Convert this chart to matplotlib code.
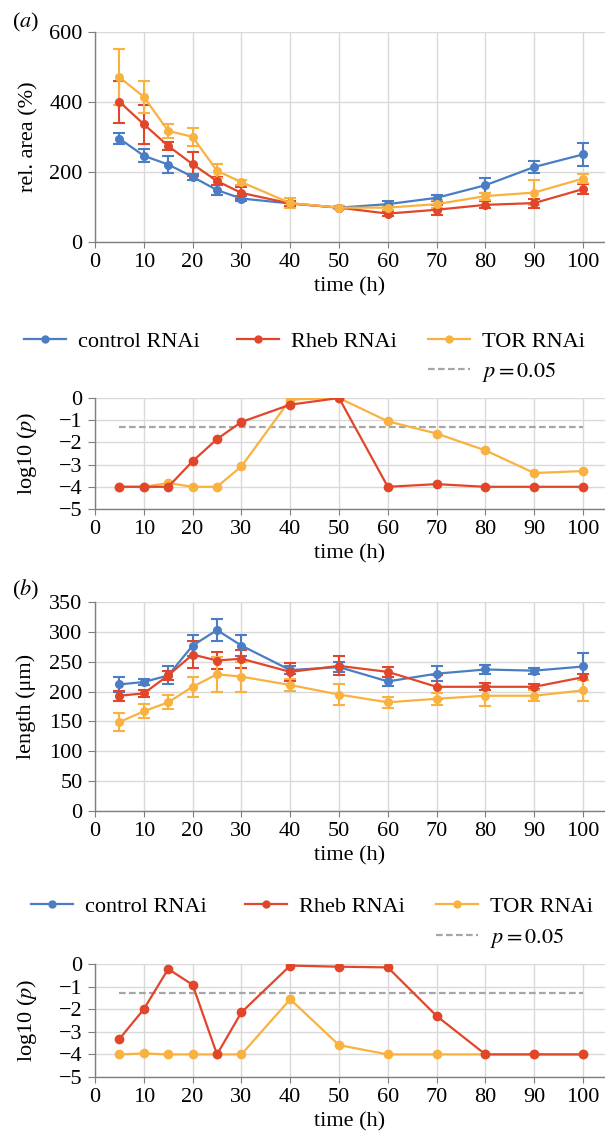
import numpy as np
import matplotlib
matplotlib.use("Agg")
import matplotlib.pyplot as plt
from matplotlib.lines import Line2D

# ── data ─────────────────────────────────────────────
time_a = [5, 10, 15, 20, 25, 30, 40, 50, 60, 70, 80, 90, 100]
area_ctrl = [295, 246, 221, 186, 148, 124, 110, 98, 108, 126, 162, 214, 250]
area_ctrl_err = [15, 19, 25, 9, 15, 8, 8, 5, 9, 8, 21, 18, 32]
area_rheb = [400, 336, 274, 222, 174, 140, 110, 98, 81, 92, 106, 111, 151]
area_rheb_err = [60, 55, 12, 34, 12, 17, 8, 4, 8, 14, 10, 13, 15]
area_tor = [470, 414, 317, 300, 203, 171, 111, 98, 98, 108, 131, 141, 181]
area_tor_err = [80, 45, 20, 25, 20, 7, 15, 4, 6, 12, 10, 35, 14]

logp_a_rheb = [-4, -4, -4, -2.85, -1.85, -1.08, -0.3, 0, -4, -3.88, -4, -4, -4]
logp_a_tor = [-4, -4, -3.83, -4, -4, -3.08, -0.07, 0, -1.05, -1.6, -2.36, -3.38, -3.29]

time_b = [5, 10, 15, 20, 25, 30, 40, 50, 60, 70, 80, 90, 100]
len_ctrl = [212, 216, 227, 277, 303, 277, 236, 241, 217, 230, 237, 235, 242]
len_ctrl_err = [12, 5, 15, 17, 18, 18, 7, 8, 8, 12, 8, 5, 23]
len_rheb = [193, 197, 227, 262, 252, 255, 233, 243, 233, 208, 208, 208, 224]
len_rheb_err = [8, 6, 8, 22, 15, 15, 15, 16, 8, 20, 6, 4, 5]
len_tor = [149, 167, 182, 208, 229, 225, 211, 195, 182, 188, 193, 193, 202]
len_tor_err = [15, 12, 12, 17, 29, 25, 10, 18, 9, 10, 17, 9, 17]

logp_b_rheb = [-3.32, -2.0, -0.22, -0.92, -4.0, -2.14, -0.07, -0.12, -0.15, -2.3, -4, -4, -4]
logp_b_tor = [-4, -3.96, -4, -4, -4, -4, -1.56, -3.59, -4, -4, -4, -4, -4]

p_thresh = 0.05
x_ticks = [0, 10, 20, 30, 40, 50, 60, 70, 80, 90, 100]

# ── style ────────────────────────────────────────────
plt.rcParams.update({
    "font.family": ["Liberation Serif", "DejaVu Serif"],
    "mathtext.fontset": "stix",
    "font.size": 16,
})
BLUE, RED, ORANGE = "#4A7DC4", "#E2462A", "#F9B240"
GRID = "#d9d9d9"
SPINE = "#7f7f7f"

W, H = 605, 1131
fig = plt.figure(figsize=(W / 100, H / 100), dpi=100)


def axes_at(top_px, bot_px, left_px=95):
    return fig.add_axes([left_px / W, 1 - bot_px / H, (W - left_px) / W, (bot_px - top_px) / H])


def style(ax, ylim, yticks, ylabel, ylab_x):
    ax.set_xlim(0, 104.5)
    ax.set_ylim(*ylim)
    ax.set_xticks(x_ticks)
    ax.set_yticks(yticks)
    ax.set_yticklabels([str(t).replace("-", "\u2212") for t in yticks])
    ax.grid(True, color=GRID, lw=1.0)
    ax.set_axisbelow(True)
    for s in ("top", "right"):
        ax.spines[s].set_visible(False)
    for s in ("left", "bottom"):
        ax.spines[s].set_color(SPINE)
        ax.spines[s].set_linewidth(1.0)
    ax.tick_params(axis="y", length=5, pad=4, color=SPINE)
    ax.tick_params(axis="x", length=4, pad=4, color=SPINE)
    ax.set_xlabel("time (h)", labelpad=4)
    ax.set_ylabel(ylabel)
    ax.yaxis.set_label_coords(ylab_x, 0.5)


def series(ax, x, y, err, colour):
    ax.errorbar(x, y, yerr=err, color=colour, lw=1.6, marker="o", ms=5.5,
                capsize=4.5, capthick=1.5, elinewidth=1.5)


def pplot(ax, x, rheb, tor):
    ax.plot([5, 100], [np.log10(p_thresh)] * 2, ls=(0, (3, 1.5)), color="#a6a6a6", lw=1.6)
    ax.plot(x, tor, color=ORANGE, lw=1.6, marker="o", ms=6)
    ax.plot(x, rheb, color=RED, lw=1.6, marker="o", ms=6)


def legends(y1, y2, xs):
    h = [Line2D([], [], color=c, lw=1.6, marker="o", ms=5) for c in (BLUE, RED, ORANGE)]
    labs = ["control RNAi", "Rheb RNAi", "TOR RNAi"]
    for hh, lab, x in zip(h, labs, xs):
        fig.legend([hh], [lab], loc="center left", bbox_to_anchor=(x / W, 1 - y1 / H),
                   frameon=False, borderpad=0, borderaxespad=0, handlelength=1.9,
                   handletextpad=0.55, fontsize=16)
    hp = Line2D([], [], color="#a6a6a6", lw=1.6, ls=(0, (3, 1.5)))
    fig.legend([hp], ["$p = 0.05$"], loc="center left", bbox_to_anchor=(xs[2] / W, 1 - y2 / H),
               frameon=False, borderpad=0, borderaxespad=0, handlelength=1.9,
               handletextpad=0.55, fontsize=16)


# ── (a) relative area ───────────────────────────────
ax1 = axes_at(31.7, 242)
series(ax1, time_a, area_ctrl, area_ctrl_err, BLUE)
series(ax1, time_a, area_rheb, area_rheb_err, RED)
series(ax1, time_a, area_tor, area_tor_err, ORANGE)
style(ax1, (0, 600), [0, 200, 400, 600], "rel. area (%)", -0.11)
fig.text(12 / W, 1 - 22 / H, "($a$)", fontsize=16, va="center", ha="left")

legends(342, 372, [24, 237, 428])

ax2 = axes_at(398, 509)
pplot(ax2, time_a, logp_a_rheb, logp_a_tor)
style(ax2, (-5, 0), [0, -1, -2, -3, -4, -5], "log10 ($p$)", -0.11)

# ── (b) length ───────────────────────────────────────
ax3 = axes_at(602, 811)
series(ax3, time_b, len_ctrl, len_ctrl_err, BLUE)
series(ax3, time_b, len_rheb, len_rheb_err, RED)
series(ax3, time_b, len_tor, len_tor_err, ORANGE)
style(ax3, (0, 350), [0, 50, 100, 150, 200, 250, 300, 350], "length (μm)", -0.115)
fig.text(12 / W, 1 - 590 / H, "($b$)", fontsize=16, va="center", ha="left")

legends(907, 938, [31, 245, 436])

ax4 = axes_at(964, 1077)
pplot(ax4, time_b, logp_b_rheb, logp_b_tor)
style(ax4, (-5, 0), [0, -1, -2, -3, -4, -5], "log10 ($p$)", -0.11)

fig.savefig("out.png", dpi=100)
